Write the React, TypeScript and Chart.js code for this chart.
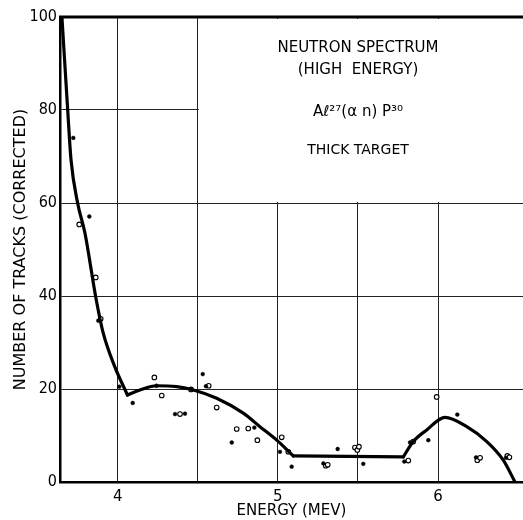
import React, { useEffect, useRef } from "react";
import { Chart, registerables } from "chart.js";

Chart.register(...registerables);

// Energy (MeV) / number of tracks
const curveE = [3.652, 3.688, 3.709, 3.75, 3.796, 3.863, 3.91, 3.983, 4.061, 4.139, 4.244, 4.368, 4.462, 4.618, 4.784, 4.888, 4.993, 5.096, 5.783, 5.845, 5.929, 6.043, 6.179, 6.304, 6.407, 6.48];
const curveN = [100, 80.0, 69.2, 60.0, 53.5, 39.8, 32.0, 24.7, 18.7, 19.8, 20.7, 20.5, 19.9, 18.0, 14.8, 11.9, 9.0, 5.6, 5.4, 8.7, 11.2, 13.9, 11.9, 8.7, 4.7, 0];
// indices where the drawn curve has sharp corners
const curveCorners = [0, 8, 17, 18, 25];

const filledE = [3.723, 3.823, 3.879, 4.01, 4.094, 4.242, 4.358, 4.42, 4.531, 4.551, 4.712, 4.853, 5.013, 5.086, 5.284, 5.373, 5.533, 5.789, 5.825, 5.939, 6.12, 6.237, 6.424];
const filledN = [74.0, 57.1, 34.7, 20.5, 17.0, 20.7, 14.6, 14.7, 23.2, 20.6, 8.5, 11.7, 6.5, 3.3, 4.0, 7.1, 3.9, 4.4, 8.5, 9.0, 14.5, 5.3, 5.2];

const openE = [3.76, 3.863, 3.894, 4.229, 4.275, 4.389, 4.458, 4.568, 4.618, 4.743, 4.815, 4.872, 5.024, 5.065, 5.299, 5.311, 5.481, 5.496, 5.506, 5.814, 5.845, 5.991, 6.245, 6.262, 6.432, 6.445];
const openN = [55.4, 44.0, 35.1, 22.5, 18.6, 14.6, 19.9, 20.7, 16.0, 11.4, 11.5, 9.0, 9.6, 6.5, 3.5, 3.7, 7.4, 6.9, 7.6, 4.6, 8.7, 18.3, 4.7, 5.2, 5.6, 5.3];

const xGridValues = [4, 4.5, 5, 5.5, 6];
const xTickLabels: Record<string, string> = { "4": "4", "5": "5", "6": "6" };
const yTicks = [0, 20, 40, 60, 80, 100];

const titleLines = ["NEUTRON SPECTRUM", "(HIGH  ENERGY)", "Aℓ²⁷(α n) P³⁰", "THICK TARGET"];

const FONT = "'DejaVu Sans', 'Noto Sans', sans-serif";
const TICKFONT = "'DejaVu Sans Condensed', 'DejaVu Sans', sans-serif";

const toPts = (xs: number[], ys: number[]) => xs.map((x, i) => ({ x, y: ys[i] }));

export default function App() {
  const ref = useRef<HTMLCanvasElement | null>(null);

  useEffect(() => {
    if (!ref.current) return;
    const decor = {
      id: "decor",
      beforeDatasetsDraw(chart: any) {
        const { ctx, chartArea, scales } = chart;
        const x0 = scales.x.getPixelForValue(4.5) + 1;
        const y1 = scales.y.getPixelForValue(60) - 1;
        ctx.save();
        ctx.fillStyle = "#fff";
        ctx.fillRect(x0, chartArea.top + 2, chartArea.right - x0, y1 - chartArea.top - 2);
        ctx.restore();
      },
      afterDraw(chart: any) {
        const { ctx, chartArea, scales } = chart;
        ctx.save();
        ctx.strokeStyle = "#000";
        ctx.lineWidth = 3;
        ctx.beginPath();
        ctx.moveTo(chartArea.left - 1, chartArea.top);
        ctx.lineTo(chartArea.right, chartArea.top);
        ctx.stroke();
        const cx = scales.x.getPixelForValue(5.5);
        const ys = [93.3, 88.6, 79.6, 71.4];
        const sizes = [15, 15, 15, 14];
        ctx.fillStyle = "#000";
        ctx.textAlign = "center";
        ctx.textBaseline = "middle";
        titleLines.forEach((t, i) => {
          ctx.font = `${sizes[i]}px ${FONT}`;
          ctx.fillText(t, cx, scales.y.getPixelForValue(ys[i]));
        });
        ctx.restore();
      },
    };

    const curvePts = toPts(curveE, curveN);
    const curveSets = curveCorners.slice(0, -1).map((start, i) => {
      const end = curveCorners[i + 1];
      return {
        data: curvePts.slice(start, end + 1),
        showLine: true,
        borderColor: "#000",
        borderWidth: 3.2,
        pointRadius: 0,
        pointHoverRadius: 0,
        cubicInterpolationMode: "monotone",
        borderJoinStyle: "round",
        borderCapStyle: "round",
      } as any;
    });

    const chart = new Chart(ref.current, {
      type: "scatter",
      data: {
        datasets: [
          ...curveSets,
          {
            data: toPts(filledE, filledN),
            pointRadius: 1.9,
            pointBackgroundColor: "#000",
            pointBorderColor: "#000",
            pointBorderWidth: 0.5,
          },
          {
            data: toPts(openE, openN),
            pointRadius: 2.3,
            pointBackgroundColor: "#fff",
            pointBorderColor: "#000",
            pointBorderWidth: 1.1,
          },
        ],
      },
      options: {
        animation: false,
        responsive: false,
        events: [],
        layout: { autoPadding: false, padding: { top: 17, left: 0, right: 0, bottom: 0 } },
        plugins: { legend: { display: false }, tooltip: { enabled: false } },
        scales: {
          x: {
            type: "linear",
            min: 3.64,
            max: 6.53,
            afterBuildTicks: (s: any) => {
              s.ticks = xGridValues.map((v) => ({ value: v }));
            },
            afterFit: (s: any) => {
              s.height = 38;
              s.paddingLeft = 0;
              s.paddingRight = 0;
            },
            ticks: {
              autoSkip: false,
              maxRotation: 0,
              padding: 6,
              color: "#000",
              font: { family: FONT, size: 15 },
              callback: (v: any) => xTickLabels[String(v)] ?? "",
            },
            grid: { color: "#222", lineWidth: 1, drawTicks: false },
            border: { color: "#000", width: 2.5 },
            title: {
              display: true,
              text: "ENERGY (MEV)",
              color: "#000",
              font: { family: FONT, size: 15 },
              padding: { top: 0, bottom: 0 },
            },
          },
          y: {
            min: 0,
            max: 100,
            afterBuildTicks: (s: any) => {
              s.ticks = yTicks.map((v) => ({ value: v }));
            },
            afterFit: (s: any) => {
              s.width = 60;
              s.paddingTop = 0;
              s.paddingBottom = 0;
            },
            ticks: {
              padding: 3,
              color: "#000",
              font: { family: TICKFONT, size: 16 },
            },
            grid: { color: "#222", lineWidth: 1, drawTicks: false },
            border: { color: "#000", width: 2.5 },
            title: {
              display: true,
              text: "NUMBER OF TRACKS (CORRECTED)",
              color: "#000",
              font: { family: FONT, size: 16 },
              padding: { top: 11, bottom: 0 },
            },
          },
        },
      },
      plugins: [decor],
    } as any);
    return () => chart.destroy();
  }, []);

  return (
    <div style={{ position: "absolute", left: 0, top: 0, width: 523, height: 520, background: "#fff" }}>
      <canvas ref={ref} width={523} height={520} />
    </div>
  );
}
